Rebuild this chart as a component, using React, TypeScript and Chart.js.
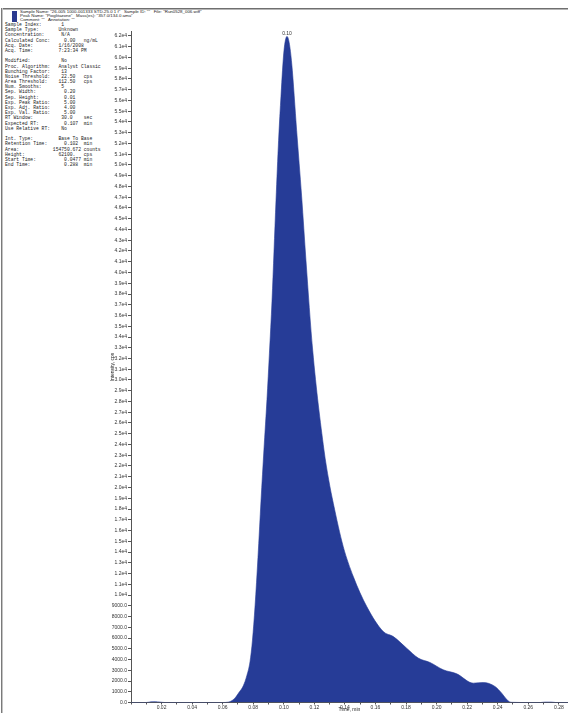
import React, { useEffect, useRef } from "react";
import { Chart, registerables } from "chart.js";

Chart.register(...registerables);

// ---- data ----
const times: number[] = [
  0.0, 0.01, 0.013, 0.016, 0.019, 0.022, 0.06, 0.0635, 0.0654, 0.068, 0.0705, 0.0735, 0.0758, 0.0779,
  0.0795, 0.0812, 0.0831, 0.0851, 0.087, 0.089, 0.0906, 0.0923, 0.0936, 0.0949, 0.0966, 0.0982, 0.1001,
  0.1021, 0.1035, 0.1052, 0.1084, 0.1117, 0.1145, 0.1189, 0.1263, 0.1294, 0.1324, 0.1389, 0.1455, 0.1543,
  0.1651, 0.1717, 0.1804, 0.188, 0.1957, 0.2044, 0.2132, 0.224, 0.2306, 0.2382, 0.2426, 0.2455, 0.248,
  0.25, 0.255, 0.268, 0.271, 0.275, 0.278, 0.286,
];
const intensity: number[] = [
  0, 0, 60, 80, 40, 0, 0, 30, 120, 400, 900, 1550, 2500, 3800,
  5800, 9000, 13500, 18800, 23500, 28200, 32500, 37400, 42000, 46700, 52300, 56500, 60600,
  61960, 61400, 59420, 53220, 47030, 41140, 32780, 23490, 20700, 18530, 14500, 11710, 8920,
  6600, 6130, 5050, 4130, 3720, 3040, 2670, 1800, 1860, 1490, 870, 350, 40,
  15, 0, 0, 40, 40, 0, 0,
];
const peakLabel = "0.10";
const xTickValues: number[] = [
  0.0, 0.01, 0.02, 0.03, 0.04, 0.05, 0.06, 0.07, 0.08, 0.09, 0.1, 0.11, 0.12, 0.13, 0.14,
  0.15, 0.16, 0.17, 0.18, 0.19, 0.2, 0.21, 0.22, 0.23, 0.24, 0.25, 0.26, 0.27, 0.28,
];
const yTickValues: number[] = Array.from({ length: 63 }, (_, i) => i * 1000);

const headerLines: string[] = [
  'Sample Name: "26-005 1000-001333 STD-25.0 1 f"   Sample ID: ""   File: "Run0528_006.wiff"',
  'Peak Name: "Pioglitazone"   Mass(es): "357.0/134.0 amu"',
  'Comment: ""   Annotation: ""',
];
const infoLines: string[] = [
  "Sample Index:       1",
  "Sample Type:       Unknown",
  "Concentration:      N/A",
  "Calculated Conc:     0.00   ng/mL",
  "Acq. Date:         1/16/2008",
  "Acq. Time:         7:23:34 PM",
  "",
  "Modified:           No",
  "Proc. Algorithm:   Analyst Classic",
  "Bunching Factor:    13",
  "Noise Threshold:    22.50   cps",
  "Area Threshold:    112.50   cps",
  "Num. Smooths:       5",
  "Sep. Width:          0.20",
  "Sep. Height:         0.01",
  "Exp. Peak Ratio:     5.00",
  "Exp. Adj. Ratio:     4.00",
  "Exp. Val. Ratio:     5.00",
  "RT Window:          30.0    sec",
  "Expected RT:         0.107  min",
  "Use Relative RT:    No",
  "",
  "Int. Type:         Base To Base",
  "Retention Time:      0.102  min",
  "Area:            154750.672 counts",
  "Height:            62100.   cps",
  "Start Time:          0.0477 min",
  "End Time:            0.288  min",
];

const FILL = "#263c97";

function fmtY(v: number): string {
  if (v < 10000) return v.toFixed(1);
  return (v / 10000).toFixed(1) + "e4";
}

const peakLabelPlugin = {
  id: "peakLabel",
  afterDatasetsDraw(chart: any) {
    let mi = 0;
    intensity.forEach((v, i) => {
      if (v > intensity[mi]) mi = i;
    });
    const xs = chart.scales.x;
    const ys = chart.scales.y;
    const px = xs.getPixelForValue(times[mi]);
    const py = ys.getPixelForValue(intensity[mi]);
    const ctx = chart.ctx;
    ctx.save();
    ctx.font = "5px 'Liberation Sans', Arial, sans-serif";
    ctx.fillStyle = "#333";
    ctx.textAlign = "center";
    ctx.textBaseline = "bottom";
    ctx.fillText(peakLabel, px, py - 0.5);
    ctx.restore();
  },
};

function ChromChart() {
  const ref = useRef<HTMLCanvasElement | null>(null);
  useEffect(() => {
    if (!ref.current) return;
    const chart = new Chart(ref.current, {
      type: "line",
      data: {
        datasets: [
          {
            data: times.map((t, i) => ({ x: t, y: intensity[i] })),
            backgroundColor: FILL,
            borderColor: FILL,
            borderWidth: 0.6,
            fill: "origin",
            pointRadius: 0,
            cubicInterpolationMode: "monotone",
          },
        ],
      },
      options: {
        animation: false,
        responsive: false,
        maintainAspectRatio: false,
        events: [],
        layout: { padding: { top: 31.7, left: 0, right: 0, bottom: 0 } },
        plugins: { legend: { display: false }, tooltip: { enabled: false } },
        scales: {
          x: {
            type: "linear",
            min: 0,
            max: 0.286,
            afterBuildTicks: (s: any) => {
              s.ticks = xTickValues.map((v) => ({ value: v }));
            },
            afterFit: (s: any) => {
              s.height = 10.5;
            },
            ticks: {
              autoSkip: false,
              maxRotation: 0,
              padding: 0,
              color: "#333",
              font: { size: 5, family: "'Liberation Sans', Arial, sans-serif" },
              callback: (v: any) => {
                const k = Math.round(Number(v) * 100);
                return k > 0 && k % 2 === 0 ? (k / 100).toFixed(2) : "";
              },
            },
            grid: { drawOnChartArea: false, tickLength: 2, color: "#555" },
            border: { color: "#555", width: 1 },
            title: {
              display: true,
              text: "Time, min",
              color: "#222",
              padding: 0,
              font: { size: 5, family: "'Liberation Sans', Arial, sans-serif" },
            },
          },
          y: {
            min: 0,
            max: 62400,
            afterBuildTicks: (s: any) => {
              s.ticks = yTickValues.map((v) => ({ value: v }));
            },
            afterFit: (s: any) => {
              s.width = 31;
            },
            ticks: {
              autoSkip: false,
              padding: 1,
              color: "#333",
              font: { size: 5, family: "'Liberation Sans', Arial, sans-serif" },
              callback: (v: any) => fmtY(Number(v)),
            },
            grid: { drawOnChartArea: false, tickLength: 3, color: "#555" },
            border: { color: "#555", width: 1 },
            title: {
              display: true,
              text: "Intensity, cps",
              color: "#222",
              padding: { top: 10, bottom: 0 },
              font: { size: 5, family: "'Liberation Sans', Arial, sans-serif" },
            },
          },
        },
      },
      plugins: [peakLabelPlugin],
    });
    return () => chart.destroy();
  }, []);
  return (
    <canvas
      ref={ref}
      width={468}
      height={713}
      style={{ position: "absolute", left: 100, top: 0, width: 468, height: 713 }}
    />
  );
}

export default function App() {
  return (
    <div
      style={{
        position: "absolute",
        left: 0,
        top: 0,
        width: 568,
        height: 713,
        overflow: "hidden",
        background: "#fff",
      }}
    >
      {/* frame lines */}
      <div style={{ position: "absolute", left: 2, top: 8, width: 566, height: 1, background: "#6f6f6f" }} />
      <div style={{ position: "absolute", left: 2, top: 9, width: 566, height: 1, background: "#b5b5b5" }} />
      <div style={{ position: "absolute", left: 1, top: 8, width: 1, height: 705, background: "#7a7a7a" }} />
      <div style={{ position: "absolute", left: 2, top: 8, width: 1, height: 705, background: "#c4c4c4" }} />
      {/* header */}
      <div style={{ position: "absolute", left: 12, top: 10.5, width: 5, height: 11, background: "#2b3a8f" }} />
      {headerLines.map((t, i) => (
        <div
          key={"h" + i}
          style={{
            position: "absolute",
            left: 20,
            top: 10 + i * 4,
            fontFamily: "'Liberation Sans', Arial, sans-serif",
            fontSize: 4.4,
            lineHeight: "4px",
            color: "#222",
            whiteSpace: "pre",
          }}
        >
          {t}
        </div>
      ))}
      {/* info block */}
      <div
        style={{
          position: "absolute",
          left: 5,
          top: 22,
          fontFamily: "'Liberation Mono', 'DejaVu Sans Mono', monospace",
          fontSize: 4.7,
          lineHeight: "5.2px",
          color: "#222",
          whiteSpace: "pre",
        }}
      >
        {infoLines.map((t, i) => (
          <div key={"l" + i} style={{ height: 5.2 }}>
            {t}
          </div>
        ))}
      </div>
      <ChromChart />
    </div>
  );
}
